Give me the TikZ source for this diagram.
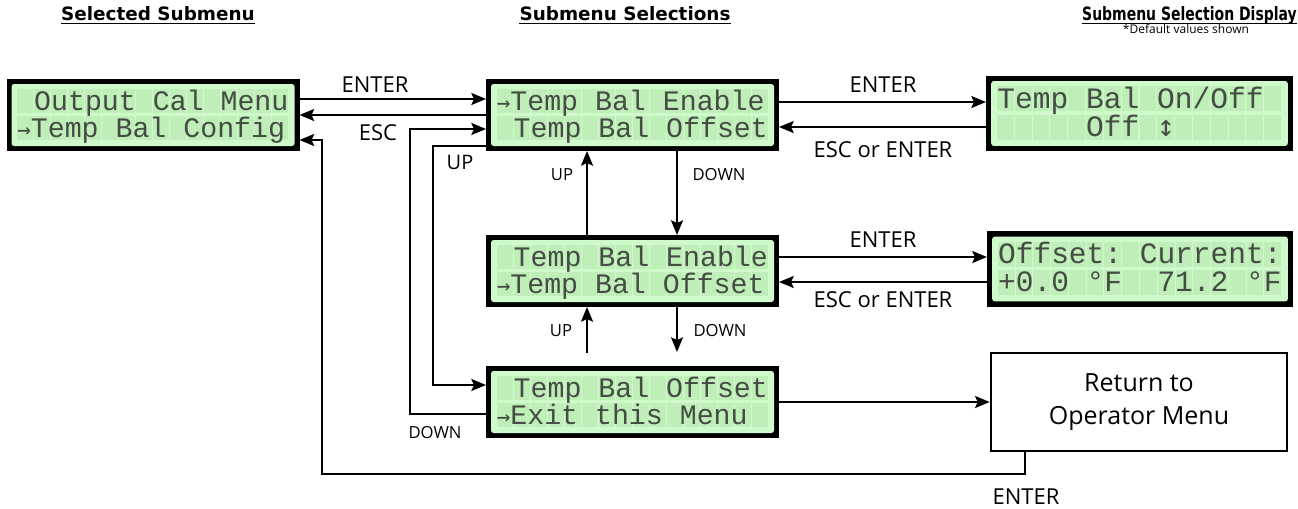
\documentclass[tikz,border=0pt]{standalone}
\usepackage{fontspec}
\setmainfont{Open Sans}
\newfontfamily\lcdfont{Liberation Mono}
\newfontfamily\symfont{DejaVu Sans Mono}
\newfontfamily\headfont{DejaVu Sans}
\usetikzlibrary{arrows.meta,positioning,calc}
\tikzset{>={Stealth[length=11pt,width=9pt,inset=2pt]}}
\definecolor{lcdbg}{HTML}{CFFACA}
\definecolor{lcdcell}{HTML}{C0EEB9}
\definecolor{lcdink}{HTML}{444C44}
\newcommand\ra{{\symfont\scalebox{0.8}{→}}}
\newcommand\ud{{\symfont ↕}}
\tikzset{
  lcdframe/.style={fill=black,inner sep=0pt,outer sep=0pt},
  lcdtext/.style={anchor=base west,inner sep=0pt,text=lcdink},
  flow/.style={->,line width=1.5pt},
  lbl/.style={font=\fontsize{16.5}{18}\selectfont,inner sep=0pt},
  smalllbl/.style={font=\fontsize{12.5}{14}\selectfont,inner sep=0pt},
  head/.style={font=\headfont\bfseries\fontsize{13.8}{16}\selectfont,inner sep=0pt},
  menubox/.style={draw,line width=1.9pt,align=center,minimum width=222pt,
    minimum height=73.5pt,font=\fontsize{18.75}{24.75}\selectfont}
}
% LCD panel, 16x2 characters: \lcd{scale}{name}{centre}{line 1}{line 2}
\newcommand\lcd[5]{%
  \pgfmathsetmacro\lcdsz{21.18*#1}%
  \begin{scope}[shift={#3},scale=#1]
    \node[lcdframe,minimum width=#1*219.75pt,minimum height=#1*54pt] (#2) at (0,0) {};
    \fill[lcdbg,rounded corners=2pt] (-141.5,-31) rectangle (141.5,31);
    \foreach \col in {0,...,15}{
      \fill[lcdcell] (-136+17*\col,-26) rectangle ++(16,24);
      \fill[lcdcell] (-136+17*\col,1) rectangle ++(16,24);
    }
    \node[lcdtext,font=\lcdfont\fontsize{\lcdsz}{\lcdsz}\selectfont] at (-136,-5) {#4};
    \node[lcdtext,font=\lcdfont\fontsize{\lcdsz}{\lcdsz}\selectfont] at (-136,22) {#5};
  \end{scope}}

\begin{document}
\begin{tikzpicture}[x=0.75pt,y=-0.75pt]
  \useasboundingbox (0,0) rectangle (1298,508);

  % Column headers
  \node[head,anchor=base] (h1) at (158,20) {Selected Submenu};
  \node[head,anchor=base] (h2) at (625,20) {Submenu Selections};
  \node[head,anchor=base east] (h3) at (1297,20) {\scalebox{0.76}[1]{Submenu Selection Display}};
  \foreach \h in {h1,h2,h3}
    \draw[line width=1.4pt] ($(\h.base west)+(0,3.5)$) -- ($(\h.base east)+(0,3.5)$);
  \node[font=\fontsize{9}{10}\selectfont,anchor=base] (note) at (1186,33) {*Default values shown};

  % Displays
  \lcd{1}{sub}{(153,115)}{~Output~Cal~Menu}{\ra Temp~Bal~Config}
  \lcd{1}{en1}{(632.5,115)}{\ra Temp~Bal~Enable}{~Temp~Bal~Offset}
  \lcd{1.048}{tb}{(1139.5,113.5)}{Temp~Bal~On/Off}{~~~~~Off~\ud}
  \lcd{1}{en2}{(632.5,271)}{~Temp~Bal~Enable}{\ra Temp~Bal~Offset}
  \lcd{1.045}{off}{(1140,269)}{Offset:~Current:}{+0.0~°F~~71.2~°F}
  \lcd{1}{en3}{(632.5,402)}{~Temp~Bal~Offset}{\ra Exit~this~Menu}
  \node[menubox] (ret) at (1139,402) {Return to\\Operator Menu};

  % Free ends between the two lower displays
  \coordinate (dn) at ($(en2.south)+(44.5,45)$);
  \coordinate (up) at ($(en2.south)+(-45.5,46)$);

  % Top row
  \draw[flow] ($(sub.east)+(0,-16)$) coordinate (a) -- (a -| en1.west);
  \node[lbl] at (375,85) {ENTER};
  \draw[flow] (en1.west) -- (sub.east);
  \node[lbl] at (378,133) {ESC};
  \draw[flow] ($(en1.east)+(0,-13)$) coordinate (b) -- (b -| tb.west);
  \node[lbl] at (883,85) {ENTER};
  \draw[flow] ($(tb.west)+(0,13.5)$) coordinate (c) -- (c -| en1.east);
  \node[lbl] at (883,150) {ESC or ENTER};

  % Up and down between displays
  \draw[flow] ($(en1.south)+(44.5,0)$) -- ($(en2.north)+(44.5,0)$);
  \node[smalllbl] at (719,175) {DOWN};
  \draw[flow] ($(en2.north)+(-45.5,0)$) -- ($(en1.south)+(-45.5,0)$);
  \node[smalllbl] at (562,175) {UP};
  \draw[flow] ($(en2.south)+(44.5,0)$) -- (dn);
  \node[smalllbl] at (720,331) {DOWN};
  \draw[flow] (up) -- ($(en2.south)+(-45.5,0)$);
  \node[smalllbl] at (561,331) {UP};

  % Middle row
  \draw[flow] ($(en2.east)+(0,-14)$) coordinate (d) -- (d -| off.west);
  \node[lbl] at (883,240) {ENTER};
  \draw[flow] ($(off.west)+(0,13)$) coordinate (e) -- (e -| en2.east);
  \node[lbl] at (883,300) {ESC or ENTER};

  % Wrap around
  \draw[flow] ($(en1.west)+(0,31)$) -- ++(-53,0) |- ($(en3.west)+(0,-17)$);
  \node[font=\fontsize{15}{17}\selectfont,inner sep=0pt] at (460,162) {UP};
  \draw[flow] ($(en3.west)+(0,12)$) -- ++(-76,0) |- ($(en1.west)+(0,14)$);
  \node[smalllbl] at (435,433) {DOWN};

  % Exit
  \draw[flow] (en3.east) -- (ret.west);
  \draw[flow] ($(ret.south)+(-114,0)$) -- ++(0,22) -- ++(-703,0) |- ($(sub.east)+(0,25)$);
  \node[lbl] at (1026,497) {ENTER};
\end{tikzpicture}
\end{document}
